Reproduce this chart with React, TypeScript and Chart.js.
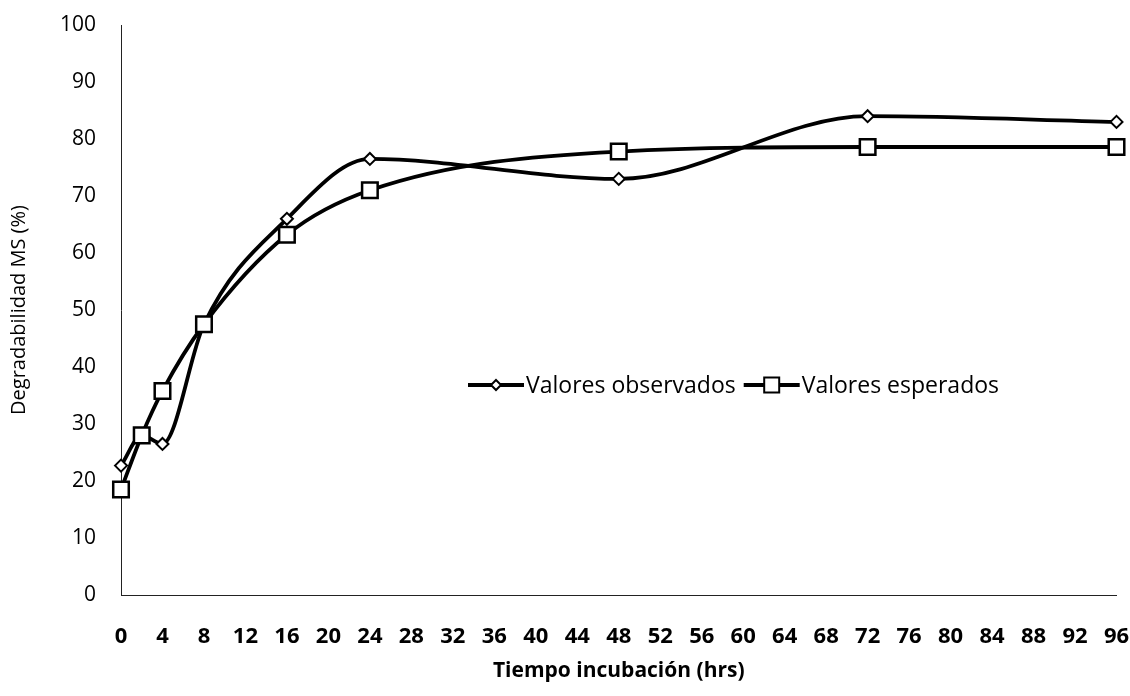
import React, { useEffect, useRef } from "react";
import { Chart, registerables } from "chart.js";

Chart.register(...registerables);

const hours = [0, 2, 4, 8, 16, 24, 48, 72, 96];
const observados = [22.7, 28, 26.5, 47.5, 66, 76.5, 73, 84, 83];
const esperados = [18.5, 28, 35.8, 47.5, 63.2, 71, 77.8, 78.6, 78.6];
const seriesNames = ["Valores observados", "Valores esperados"];
const xTitle = "Tiempo incubación (hrs)";
const yTitle = "Degradabilidad MS (%)";

const FONT = "'Open Sans', 'Noto Sans', sans-serif";

const legendPlugin = {
  id: "insideLegend",
  afterDraw(chart: any) {
    const ctx = chart.ctx;
    const y = 385;
    ctx.save();
    ctx.font = `23px ${FONT}`;
    ctx.textBaseline = "middle";
    ctx.fillStyle = "#000";
    let x = 468;
    seriesNames.forEach((name, i) => {
      ctx.strokeStyle = "#000";
      ctx.lineWidth = 4;
      ctx.beginPath();
      ctx.moveTo(x, y);
      ctx.lineTo(x + 56, y);
      ctx.stroke();
      const cx = x + 28;
      ctx.fillStyle = "#fff";
      ctx.lineWidth = 2;
      ctx.beginPath();
      if (i === 0) {
        ctx.moveTo(cx, y - 5);
        ctx.lineTo(cx + 5, y);
        ctx.lineTo(cx, y + 5);
        ctx.lineTo(cx - 5, y);
        ctx.closePath();
      } else {
        ctx.rect(cx - 7.5, y - 7.5, 15, 15);
      }
      ctx.fill();
      ctx.stroke();
      ctx.fillStyle = "#000";
      ctx.fillText(name, x + 58, y + 1);
      x = x + 58 + ctx.measureText(name).width + 8;
    });
    ctx.restore();
  },
};

export default function App() {
  const ref = useRef<HTMLCanvasElement>(null);
  useEffect(() => {
    if (!ref.current) return;
    const chart = new Chart(ref.current, {
      type: "line",
      data: {
        datasets: [
          {
            label: seriesNames[0],
            data: hours.map((h, i) => ({ x: h, y: observados[i] })),
            borderColor: "#000",
            borderWidth: 3.8,
            backgroundColor: "#fff",
            pointStyle: "rectRot",
            pointRadius: 6,
            pointBorderWidth: 2,
            pointBorderColor: "#000",
            pointBackgroundColor: "#fff",
            cubicInterpolationMode: "monotone",
            order: 1,
            clip: false as any,
          },
          {
            label: seriesNames[1],
            data: hours.map((h, i) => ({ x: h, y: esperados[i] })),
            borderColor: "#000",
            borderWidth: 3.8,
            backgroundColor: "#fff",
            pointStyle: "rect",
            pointRadius: 11,
            pointBorderWidth: 2.5,
            pointBorderColor: "#000",
            pointBackgroundColor: "#fff",
            cubicInterpolationMode: "monotone",
            order: 0,
            clip: false as any,
          },
        ],
      },
      options: {
        animation: false,
        responsive: false,
        maintainAspectRatio: false,
        layout: { padding: { left: 3, right: 12, top: 25, bottom: 8 } },
        plugins: {
          legend: { display: false },
          tooltip: { enabled: false },
        },
        scales: {
          x: {
            type: "linear",
            min: 0,
            max: 96,
            grid: { display: false, drawTicks: false },
            border: { display: true, color: "#222", width: 1 },
            ticks: {
              stepSize: 4,
              color: "#000",
              padding: 29,
              font: { family: FONT, size: 22, weight: "bold" },
              maxRotation: 0,
            },
            title: {
              display: true,
              text: xTitle,
              color: "#000",
              font: { family: FONT, size: 21, weight: "bold" },
            },
            afterFit: (s: any) => {
              s.height = 93;
              s.paddingLeft = 0;
              s.paddingRight = 0;
            },
          },
          y: {
            min: 0,
            max: 100,
            grid: { display: false, drawTicks: false },
            border: { display: true, color: "#222", width: 1 },
            ticks: {
              stepSize: 10,
              color: "#000",
              padding: 25,
              font: { family: FONT, size: 21 },
            },
            title: {
              display: true,
              text: yTitle,
              color: "#000",
              font: { family: FONT, size: 20 },
            },
            afterFit: (s: any) => {
              s.width = 118;
              s.paddingTop = 0;
              s.paddingBottom = 0;
            },
          },
        },
      },
      plugins: [legendPlugin],
    });
    return () => chart.destroy();
  }, []);
  return (
    <div style={{ position: "fixed", left: 0, top: 0, width: 1130, height: 696, background: "#fff" }}>
      <canvas ref={ref} width={1130} height={696} style={{ width: 1130, height: 696 }} />
    </div>
  );
}
